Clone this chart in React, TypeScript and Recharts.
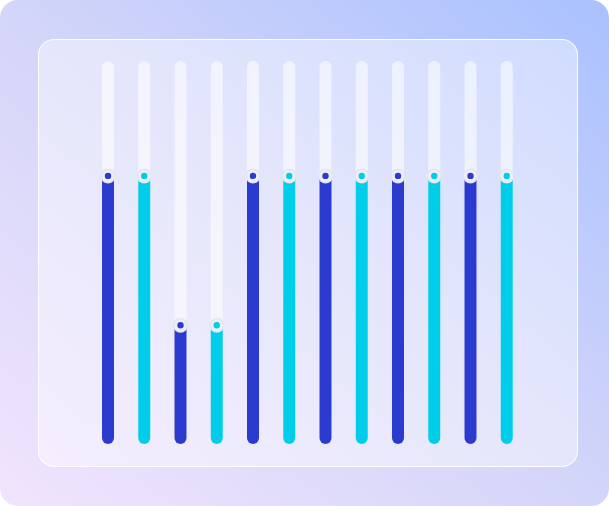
import React from 'react';
import { BarChart, Bar, XAxis, YAxis, Cell } from 'recharts';

const categories = ['A1', 'A2', 'B1', 'B2', 'C1', 'C2', 'D1', 'D2', 'E1', 'E2', 'F1', 'F2'];
const values = [70, 70, 31, 31, 70, 70, 70, 70, 70, 70, 70, 70];

const data = categories.map((name, i) => ({ name, value: values[i] }));

const COLORS = ['#2B3BCF', '#00CDE9'];

const BarShape = (props: any) => {
  const { x, y, width, height, fill } = props;
  if (height == null || height <= 0) return null;
  const r = width / 2;
  const cx = x + width / 2;
  const bottom = y + height;
  const d = `M${x},${y} L${x + width},${y} L${x + width},${bottom - r} A${r},${r} 0 0 1 ${x},${bottom - r} Z`;
  return (
    <g>
      <path d={d} fill={fill} />
      <circle cx={cx} cy={y} r={7.5} fill="#E4E5EE" />
      <circle cx={cx} cy={y} r={6} fill="#EEEFF5" />
      <circle cx={cx} cy={y} r={3.2} fill={fill} />
    </g>
  );
};

export default function App() {
  return (
    <div style={{ position: 'fixed', left: 0, top: 0, width: 609, height: 506 }}>
      <div
        style={{
          position: 'absolute',
          left: 0,
          top: 0,
          width: 609,
          height: 506,
          borderRadius: 18,
          background: 'linear-gradient(to top right, #F1E4FD 0%, #D3D5F9 50%, #A9C1FF 100%)',
        }}
      />
      <div
        style={{
          position: 'absolute',
          left: 38,
          top: 39,
          width: 540,
          height: 428,
          boxSizing: 'border-box',
          borderRadius: 16,
          border: '1px solid rgba(255,255,255,0.95)',
          background: 'rgba(255,255,255,0.42)',
        }}
      />
      <div style={{ position: 'absolute', left: 0, top: 0 }}>
        <BarChart
          width={609}
          height={506}
          data={data}
          margin={{ top: 61, right: 84, bottom: 62, left: 90 }}
          barCategoryGap={0}
        >
          <XAxis dataKey="name" hide />
          <YAxis domain={[0, 100]} hide />
          <Bar
            dataKey="value"
            barSize={12}
            isAnimationActive={false}
            background={{ fill: 'rgba(255,255,255,0.55)', radius: 6 }}
            shape={BarShape}
          >
            {data.map((d, i) => (
              <Cell key={d.name} fill={COLORS[i % 2]} />
            ))}
          </Bar>
        </BarChart>
      </div>
    </div>
  );
}
